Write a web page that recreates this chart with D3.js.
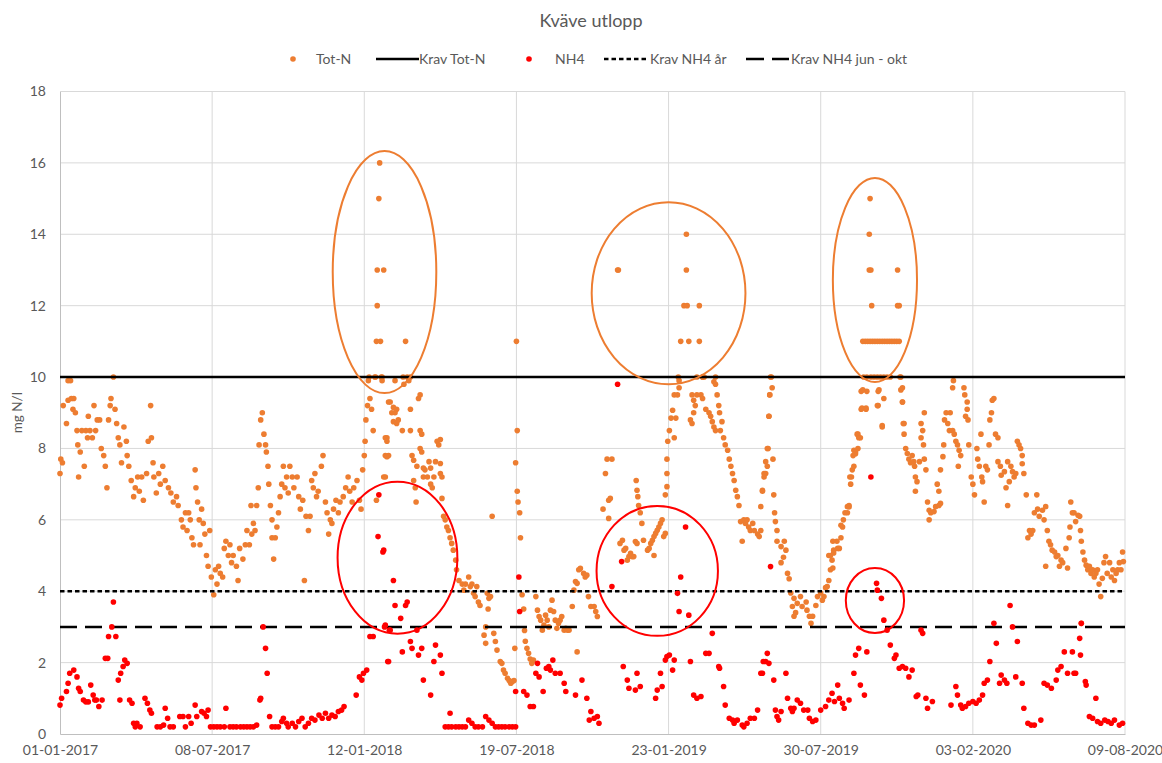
<!DOCTYPE html>
<html>
<head>
<meta charset="utf-8">
<script src="https://cdn.jsdelivr.net/npm/d3@7"></script>
<style>
  body { margin: 0; background: #fff; }
  text { font-family: Lato, "Open Sans", sans-serif; fill: #595959; }
</style>
</head>
<body>
<div id="chart"></div>
<script>
// days counted from 01-01-2017, values in mg N/l
const startDate = "2017-01-01";
const tickStepDays = 188;
const yTicks = [0, 2, 4, 6, 8, 10, 12, 14, 16, 18];

const kravTotN = 10;
const kravNH4Ar = 4;
const kravNH4JunOkt = 3;

// Tot-N, [day, value]
const totN2017 = [[0,7.3],[1,7.7],[3,7.6],[4,9.2],[8,8.7],[10,9.35],[10,9.9],[13,9.9],[14,9.4],[17,9.4],[16,9.1],[19,9.0],[21,8.5],[22,8.1],[23,7.2],[25,7.9],[27,8.5],[30,7.5],[32,8.5],[34,8.3],[35,8.9],[37,8.5],[40,8.3],[42,9.2],[44,8.5],[46,8.8],[49,8.8],[51,8.0],[54,7.8],[56,7.5],[58,6.9],[60,8.8],[62,9.2],[63,9.4],[66,10.0],[68,9.1],[70,8.7],[72,8.3],[74,8.1],[76,7.6],[79,8.6],[82,8.2],[83,7.8],[85,7.5],[88,7.1],[91,6.65],[93,6.9],[96,7.2],[98,6.8],[101,7.2],[103,6.55],[107,7.3],[109,8.2],[112,9.2],[113,8.3],[115,7.6],[116,7.2],[119,6.75],[122,7.3],[124,7.0],[127,7.5],[130,7.1],[134,6.9],[137,6.75],[140,6.5],[144,6.65],[146,6.4],[150,6.0],[152,5.8],[155,6.2],[157,5.7],[159,6.2],[161,6.0],[163,5.5],[165,5.3],[167,7.4],[168,6.9],[170,6.5],[172,6.0],[173,5.3],[175,6.3],[177,5.9],[179,5.6],[181,5.0],[183,4.7],[185,5.7],[187,4.4],[190,3.9],[192,4.6],[194,4.2],[196,4.7],[198,4.5],[201,4.4],[203,5.2],[205,5.4],[208,5.0],[210,5.3],[212,4.8],[214,5.0],[218,4.7],[220,4.3],[222,5.2],[226,4.9],[229,5.3],[231,5.7],[234,5.3],[236,6.4],[237,5.6],[239,5.9],[241,5.7],[243,6.4],[245,6.9],[246,8.1],[248,8.8],[250,9.0],[252,8.4],[254,8.1],[255,7.9],[257,7.5],[258,7.0],[260,6.4],[262,6.0],[262,5.5],[264,4.9],[266,5.5],[268,5.8],[270,6.2],[272,6.65],[274,7.0],[276,7.5],[278,6.9],[280,7.2],[282,6.75],[284,7.5],[287,7.2],[289,6.9],[293,7.2],[295,6.65],[297,6.3],[300,6.55],[302,4.3],[304,6.1],[307,5.7],[309,6.1],[311,7.1],[313,6.9],[315,7.3],[317,6.65],[319,6.8],[323,7.5],[325,7.8],[328,6.5],[330,6.2],[332,5.6],[334,6.0],[336,5.9],[338,6.3],[341,6.55],[344,6.2],[346,6.5],[350,6.65],[353,6.9],[356,7.2],[358,6.8],[361,6.5],[363,6.9]];

const totN2018 = [[367,7.1],[370,6.55],[372,6.3],[374,7.4],[376,7.8],[377,8.2],[378,8.8],[380,9.2],[381,9.9],[383,9.4],[385,9.1],[387,8.5],[389,10],[391,6.55],[398,10],[400,7.2],[404,8.3],[406,7.8],[414,9.9],[416,9.1],
  [395,16],[394,15],[392,13],[400,13],[392,12],[391,11],[396,11],[427,11],[382,10],[390,10],[397,10],[424,10],[429,10],
  [398,9.9],[425,9.8],[431,9.9],[433,10.0],[408,9.3],[412,9.15],[410,9.0],[414,9.0],[412,8.75],[416,8.7],[418,8.8],[406,9.3],[423,8.5],[433,9.1],[433,8.5],[445,8.5],[447,8.4],[445,9.5],[443,9.4],[402,8.3],[404,8.2],[402,7.8],[404,7.77],[402,7.2],[435,7.8],[437,7.67],[441,7.5],[445,8.0],[447,7.9],[449,7.45],[451,7.4],[456,7.63],[458,7.45],[464,7.63],[470,7.58],[466,8.2],[468,8.1],[470,8.25],[449,7.2],[454,7.2],[458,7.0],[460,6.9],[462,7.2],[470,7.3],[472,7.2],[437,7.1],[439,6.9],[440,6.5],[472,6.6],[474,6.1],[476,6.0],[478,5.8],[480,5.7],[482,5.5],[484,5.34],[486,5.15],[489,4.87],[490,4.6],[493,4.3],[497,4.2],[499,4.03],[501,4.2],[505,4.4],[507,4.13],[509,4.2],[511,3.94],[513,3.85],[515,4.13],[517,3.7],[519,3.6],[528,3.94],[530,3.8],[532,3.85],[529,3.5],[526,3.0],[524,2.77],[526,2.54],[534,6.1],[536,2.82],[538,2.59],[540,2.35],[544,2.03],[546,1.98],[548,1.79],[550,1.7],[553,1.56],[555,1.5],[557,1.42],[559,1.47],[561,1.5],
  [564,11],[565,8.5],[563,7.6],[565,6.8],[566,6.5],[568,6.2],[569,5.5],[562,2.4],[571,3.9],[573,3.5],[574,2.9],[575,2.6],[577,2.4],[579,2.26],[581,2.1],[583,1.98],[585,2.07],[588,3.85],[590,3.47],[592,3.29],[594,3.19],[596,2.91],[598,3.05],[600,3.33],[602,3.19],[604,3.0],[606,3.47],[608,3.75],[610,3.43],[612,3.19],[614,2.96],[616,3.1],[618,3.19],[620,3.29],[623,2.91],[625,2.96],[627,2.91],[629,2.91],[633,3.57],[635,4.03],[637,4.27],[639,4.22],[641,4.6],[643,4.64],[647,4.5],[649,4.4],[651,4.45],[639,2.3],[653,3.85],[656,3.57],[660,3.57],[662,3.43],[664,3.29],[671,6.3],[674,7.3],[676,7.7],[682,7.7],[678,6.55],[680,6.6],[678,6.04],[689,13],[690,13],[692,5.34],[695,5.43],[697,5.15],[699,5.2],[701,4.87],[703,4.97],[705,5.06],[707,4.97],[709,4.97],[711,5.39],[713,5.34],[712,7.1],[713,6.83],[714,6.65],[715,6.4],[717,6.2],[719,5.9],[721,5.43],[726,5.15],[728,5.2],[730,5.34]];

const totN2019 = [[732,5.43],[734,5.53],[736,5.62],[738,5.71],[740,5.8],[742,5.9],[744,6.0],[746,5.53],[748,5.62],[734,5.0],[748,6.7],[750,6.93],[750,7.3],[750,7.7],[751,8.2],[753,8.5],[755,8.85],[757,9.07],[759,9.5],[761,8.85],[763,9.5],[759,8.3],[765,9.9],[765,9.7],[764,10],
  [774,14],[774,13],[771,12],[775,12],[790,12],[767,11],[777,11],[790,11],[794,10],[796,10],[810,10],[879,10],
  [781,9.5],[783,9.35],[785,9.2],[783,9.0],[779,8.8],[781,8.7],[787,9.5],[792,9.5],[794,9.4],[787,10],[794,10],[808,9.87],[810,9.8],[798,9.1],[802,9.0],[804,8.9],[806,8.75],[808,8.6],[810,8.5],[812,9.5],[814,9.2],[815,9.0],[818,8.75],[816,8.5],[820,8.3],[822,8.1],[825,7.95],[827,7.7],[829,7.5],[831,7.3],[833,7.1],[835,6.83],[837,6.65],[839,6.4],[841,5.95],[845,6.0],[847,5.9],[849,6.0],[851,5.8],[853,5.7],[856,5.9],[858,5.7],[862,5.6],[864,5.53],[843,5.4],[866,6.37],[868,6.83],[870,7.3],[872,7.63],[874,8.0],[876,8.9],[877,9.5],[878,10.0],
  [880,9.7],[877,9.5],[876,8.9],[875,8.0],[881,7.7],[874,7.5],[872,7.3],[870,7.2],[868,6.8],[882,6.7],[883,6.2],[884,5.95],[866,5.7],[886,5.7],[886,5.4],[895,5.4],[891,5.25],[897,5.15],[894,4.95],[891,4.8],[899,4.5],[901,4.35],[903,3.95],[907,3.8],[905,3.57],[911,3.66],[915,3.85],[907,3.3],[909,3.4],[917,3.57],[922,3.7],[923,3.47],[926,3.3],[928,3.1],[930,3.3],[934,3.6],[936,3.85],[940,3.95],[942,3.75],[944,3.85],[946,4.1],[948,4.13],[950,4.3],[952,4.6],[954,4.87],[950,5.0],[956,5.15],[963,5.2],[960,5.4],[965,5.5],[965,5.85],[968,6.0],[970,6.2],[973,6.37],[975,6.4],[976,7.2],[977,7.0],[979,7.4],[980,7.8],[983,7.9],[986,8.0],[985,8.4],[989,8.3],[990,9.1],[996,9.1],[990,9.6],[997,9.6],
  [1001,15],[1000,14],[1000,13],[1002,13],[1035,13],[1003,12],[1035,12],[1037,12],
  [992,11],[995,11],[998,11],[1001,11],[1004,11],[1007,11],[1010,11],[1013,11],[1016,11],[1019,11],[1022,11],[1025,11],[1028,11],[1031,11],[1034,11],[1037,11],
  [993,10],[997,10],[1002,10],[1006,10],[1010,10],[1014,10],[1018,10],[1022,10],[1026,10],[1038,10],
  [992,9.64],[1012,9.64],[1039,9.64],[991,9.13],[996,9.13],[1018,9.4],[1011,9.2],[1016,8.64],[1041,9.3],[1043,8.7],[1043,8.4],[986,8.4],[987,8.3],[981,7.95],[983,7.85],[981,7.5],[978,7.2],[975,6.36],[973,6.2],[967,5.8],[961,5.2],[956,5.07],[952,5.0],[955,5.4],[955,4.65],
  [1010,9.2],[1011,9.6],[1016,8.6],[1039,10.0],[1041,9.7],[1041,9.3],[1042,8.7],[1045,8.0],[1047,7.86],[1049,7.7],[1051,7.6],[1053,7.8],[1055,7.63],[1056,7.5],[1057,7.2],[1059,7.07],[1057,6.8],[1062,7.63],[1064,8.3],[1066,8.5],[1068,9.0],[1064,8.7],[1067,8.1],[1068,7.7],[1070,7.4],[1072,6.5],[1074,6.27],[1076,6.2],[1080,6.23],[1082,6.37],[1086,6.4],[1088,6.46],[1074,6.0],[1084,7.0],[1086,6.8],[1088,7.4],[1091,7.77],[1092,8.1],[1093,8.8]];

const totN2020 = [[1095,9.0],[1097,8.7],[1100,9.0],[1099,8.5],[1103,8.5],[1105,8.4],[1107,8.2],[1109,8.1],[1111,7.95],[1113,7.8],[1110,7.5],[1104,9.9],[1103,9.7],[1117,9.7],[1118,9.5],[1121,9.3],[1121,9.1],[1119,8.9],[1122,8.8],[1123,8.1],[1126,7.2],[1128,7.0],[1130,6.7],[1133,8.0],[1134,7.7],[1136,7.5],[1138,8.4],[1139,7.2],[1140,7.07],[1142,6.5],[1144,7.5],[1146,7.4],[1148,8.1],[1149,8.8],[1151,9.0],[1152,9.35],[1154,9.4],[1156,8.4],[1159,8.3],[1159,7.63],[1162,7.5],[1163,7.25],[1167,7.35],[1171,7.63],[1173,7.07],[1169,6.9],[1171,6.4],[1175,7.5],[1177,7.35],[1179,7.2],[1181,7.3],[1183,8.2],[1185,8.1],[1187,8.0],[1189,7.8],[1191,7.3],[1189,7.57],[1194,6.7],[1198,5.7],[1200,5.6],[1202,5.7],[1196,5.5],[1204,6.2],[1207,6.7],[1208,6.3],[1210,6.1],[1214,6.27],[1216,6.0],[1218,6.37],[1220,5.7],[1222,5.4],[1224,5.3],[1226,5.15],[1218,4.7],[1229,5.1],[1231,4.97],[1233,5.0],[1237,4.87],[1235,4.7],[1239,4.8],[1243,5.2],[1245,4.65],[1247,5.5],[1248,5.8],[1251,6.2],[1249,6.5],[1253,6.2],[1255,5.95],[1258,6.13],[1260,6.1],[1261,5.7],[1262,5.4],[1264,5.1],[1266,4.87],[1262,3.1],[1268,4.73],[1270,4.6],[1272,4.7],[1274,4.5],[1276,4.6],[1278,4.4],[1280,4.5],[1282,4.6],[1284,4.2],[1286,3.85],[1288,4.36],[1290,4.8],[1292,4.97],[1294,4.5],[1297,4.8],[1299,4.4],[1301,4.6],[1303,4.3],[1305,4.5],[1307,4.6],[1309,4.8],[1311,4.6],[1313,5.1],[1314,4.83]];

// NH4, [day, value]
const nh4_2017 = [[0,0.81],[2,1.0],[8,1.19],[10,1.42],[12,1.7],[17,1.79],[21,1.6],[23,1.28],[25,1.19],[29,0.95],[32,0.9],[35,0.9],[38,1.37],[41,1.09],[43,0.95],[45,0.95],[48,0.77],[52,0.95],[56,2.12],[59,2.12],[60,2.73],[64,3.0],[66,3.7],[69,2.73],[72,1.51],[74,0.95],[75,1.7],[78,1.89],[80,2.07],[83,1.98],[86,0.95],[89,0.86],[91,0.3],[93,0.2],[95,0.3],[99,0.2],[105,1.0],[108,0.86],[111,0.67],[113,0.58],[120,0.2],[124,0.2],[128,0.25],[130,0.72],[133,0.44],[136,0.2],[140,0.2],[148,0.49],[152,0.49],[155,0.2],[159,0.49],[162,0.3],[167,0.81],[169,0.49],[175,0.63],[178,0.58],[181,0.49],[183,0.67],[186,0.2],[190,0.2],[194,0.2],[198,0.2],[203,0.2],[205,0.72],[210,0.2],[214,0.2],[218,0.2],[223,0.2],[227,0.2],[231,0.2],[235,0.2],[239,0.2],[243,0.25],[247,0.95],[248,1.0],[251,3.0],[254,2.4],[256,1.7],[259,0.49],[262,0.2],[266,0.2],[270,0.2],[274,0.35],[276,0.44],[280,0.3],[282,0.2],[287,0.3],[291,0.2],[295,0.35],[299,0.44],[303,0.2],[307,0.3],[311,0.44],[315,0.39],[320,0.53],[324,0.44],[328,0.58],[332,0.44],[336,0.53],[340,0.49],[344,0.63],[348,0.67],[351,0.77]];

const nh4_2018 = [[366,1.09],[370,1.6],[373,1.51],[375,1.7],[379,1.79],[383,2.73],[387,2.73],[394,6.7],[393,5.53],[399,5.1],[401,3.0],[405,2.03],[407,2.91],[400,5.15],[412,4.3],[414,3.6],[427,3.6],[429,3.7],[421,3.24],[402,3.05],[408,2.91],[406,2.03],[423,2.3],[433,2.59],[435,2.4],[441,2.91],[443,2.21],[447,2.4],[449,1.51],[458,1.09],[462,2.03],[464,2.49],[470,2.21],[472,1.7],[482,0.58],[476,0.2],[480,0.2],[484,0.2],[489,0.2],[493,0.2],[497,0.2],[501,0.2],[505,0.39],[509,0.3],[513,0.2],[517,0.2],[522,0.2],[526,0.49],[530,0.39],[534,0.3],[538,0.2],[542,0.2],[546,0.2],[550,0.2],[555,0.2],[559,0.2],[563,0.2],[563,1.19],[567,4.4],[568,3.43],[573,1.19],[577,1.09],[581,0.77],[585,0.77],[590,1.98],[588,1.7],[592,1.6],[597,1.19],[601,1.84],[604,1.89],[606,1.79],[609,2.07],[612,1.7],[618,1.7],[623,1.42],[625,1.19],[637,1.09],[645,1.51],[651,1.0],[654,0.39],[656,0.63],[660,0.44],[664,0.49],[666,0.3],[682,4.13],[689,9.8],[694,4.83],[696,1.89],[701,1.51],[703,1.28],[711,1.23],[713,1.7],[717,1.33]];

const nh4_2019 = [[736,1.0],[738,1.23],[742,1.7],[744,1.33],[748,2.07],[750,2.17],[753,2.21],[757,1.79],[759,2.07],[763,3.94],[765,3.43],[767,4.4],[773,5.8],[777,3.33],[779,2.03],[783,1.09],[787,1.0],[792,1.05],[798,2.26],[802,2.26],[806,2.82],[814,1.89],[815,1.84],[820,1.33],[822,0.81],[827,0.44],[831,0.39],[833,0.3],[837,0.39],[843,0.25],[845,0.2],[849,0.3],[853,0.44],[858,0.44],[862,0.67],[866,1.7],[869,2.03],[874,2.26],[876,1.98],[878,4.69],[884,0.67],[886,0.49],[868,1.7],[872,2.03],[882,1.51],[891,0.63],[888,0.39],[897,1.7],[899,1.0],[903,0.72],[905,0.63],[907,0.72],[911,0.95],[915,0.86],[919,0.67],[924,0.67],[926,0.44],[930,0.35],[934,0.39],[940,0.67],[946,0.77],[950,0.95],[954,1.14],[957,0.91],[961,1.37],[963,1.0],[967,0.86],[969,0.72],[975,0.95],[981,1.7],[983,2.21],[987,2.4],[989,1.37],[994,1.09],[997,2.3],[1002,7.2],[1009,4.22],[1010,4.03],[1015,3.8],[1018,3.19],[1022,2.91],[1026,2.49],[1031,2.12],[1033,2.21],[1037,1.84],[1041,1.89],[1045,1.84],[1049,1.6],[1053,1.79],[1058,1.05],[1060,1.09],[1064,2.91],[1066,2.82],[1070,1.0],[1072,0.72],[1078,0.91]];

const nh4_2020 = [[1101,0.81],[1107,1.33],[1109,1.09],[1113,0.81],[1115,0.72],[1119,0.77],[1123,0.86],[1128,0.91],[1132,0.86],[1136,0.95],[1140,1.09],[1142,1.42],[1146,1.51],[1149,2.03],[1154,3.1],[1157,2.54],[1161,1.42],[1163,1.65],[1167,1.51],[1170,1.42],[1174,3.6],[1177,3.0],[1183,2.59],[1181,1.6],[1189,1.42],[1191,0.72],[1196,0.3],[1200,0.25],[1204,0.25],[1212,0.39],[1216,1.42],[1220,1.37],[1225,1.28],[1231,1.51],[1233,1.79],[1237,1.89],[1241,2.3],[1245,1.7],[1251,2.3],[1253,1.7],[1255,1.7],[1260,2.68],[1262,3.1],[1261,2.21],[1267,1.47],[1268,1.37],[1280,1.0],[1272,0.49],[1276,0.44],[1282,0.35],[1286,0.3],[1291,0.39],[1295,0.35],[1299,0.3],[1303,0.39],[1309,0.25],[1313,0.3]];

// hand drawn rings: [centre day, centre value, radius days, radius value]
const ringsTotN = [[401,12.94,64,3.39],[752,12.35,95,2.55],[1007,12.72,52,2.86]];
const ringsNH4 = [[417,4.94,74,2.13],[738,4.57,75,1.82],[1007,3.74,36,0.91]];

const orange = "#ED7D31", red = "#FF0000";
const width = 1162, height = 763;
const margin = { top: 91.5, right: 37, bottom: 29, left: 60 };
const w = width - margin.left - margin.right;
const h = height - margin.top - margin.bottom;

const t0 = new Date(startDate + "T00:00:00Z");
const toDate = d => d3.utcDay.offset(t0, d);
const endDate = toDate(tickStepDays * 7);
const xTicks = d3.range(0, 8).map(i => toDate(i * tickStepDays));

const svg = d3.select("#chart").append("svg")
  .attr("width", width)
  .attr("height", height);

svg.append("text")
  .attr("x", 591).attr("y", 27)
  .attr("text-anchor", "middle")
  .style("font-size", "18px")
  .text("Kväve utlopp");

const g = svg.append("g")
  .attr("transform", `translate(${margin.left},${margin.top})`);

const x = d3.scaleUtc().domain([t0, endDate]).range([0, w]);
const y = d3.scaleLinear().domain([0, 18]).range([h, 0]);

// grid
g.append("g").selectAll("line").data(yTicks.slice(1)).enter().append("line")
  .attr("x1", 0).attr("x2", w)
  .attr("y1", d => y(d)).attr("y2", d => y(d))
  .attr("stroke", "#d9d9d9");
g.append("g").selectAll("line").data(xTicks.slice(1)).enter().append("line")
  .attr("x1", d => x(d)).attr("x2", d => x(d))
  .attr("y1", 0).attr("y2", h)
  .attr("stroke", "#d9d9d9");

// axes
const xAxis = g.append("g")
  .attr("transform", `translate(0,${h})`)
  .call(d3.axisBottom(x).tickValues(xTicks).tickFormat(d3.utcFormat("%d-%m-%Y")).tickSize(0).tickPadding(11));
const yAxis = g.append("g")
  .call(d3.axisLeft(y).tickValues(yTicks).tickSize(0).tickPadding(14));
[xAxis, yAxis].forEach(a => {
  a.select(".domain").attr("stroke", "#bfbfbf");
  a.selectAll("text").style("font-size", "14px").style("font-family", "Lato, sans-serif").attr("fill", "#595959");
});

svg.append("text")
  .attr("transform", `translate(22,${margin.top + h / 2}) rotate(-90)`)
  .attr("text-anchor", "middle")
  .style("font-size", "13.5px")
  .text("mg N/l");

const dot = d => ({ date: toDate(d[0]), value: d[1] });
const totN = [].concat(totN2017, totN2018, totN2019, totN2020).map(dot);
const nh4 = [].concat(nh4_2017, nh4_2018, nh4_2019, nh4_2020).map(dot);

g.append("g").selectAll("circle").data(totN).enter().append("circle")
  .attr("cx", d => x(d.date))
  .attr("cy", d => y(d.value))
  .attr("r", 2.8)
  .attr("fill", orange);

// requirement lines
const limits = [
  { v: kravTotN, dash: null },
  { v: kravNH4Ar, dash: "4.5,3" },
  { v: kravNH4JunOkt, dash: "17,8" }
];
g.append("g").selectAll("line").data(limits).enter().append("line")
  .attr("x1", 0).attr("x2", w)
  .attr("y1", d => y(d.v)).attr("y2", d => y(d.v))
  .attr("stroke", "#000")
  .attr("stroke-width", 2.5)
  .attr("stroke-dasharray", d => d.dash);

g.append("g").selectAll("circle").data(nh4).enter().append("circle")
  .attr("cx", d => x(d.date))
  .attr("cy", d => y(d.value))
  .attr("r", 2.8)
  .attr("fill", red);

// rings
function ring(sel, data, colour) {
  sel.selectAll("ellipse").data(data).enter().append("ellipse")
    .attr("cx", d => x(toDate(d[0])))
    .attr("cy", d => y(d[1]))
    .attr("rx", d => x(toDate(d[0] + d[2])) - x(toDate(d[0])))
    .attr("ry", d => y(0) - y(d[3]))
    .attr("fill", "none")
    .attr("stroke", colour)
    .attr("stroke-width", 2);
}
ring(g.append("g"), ringsTotN, orange);
ring(g.append("g"), ringsNH4, red);

// legend
const legend = svg.append("g").attr("transform", "translate(0,59)");
const items = [
  { label: "Tot-N", type: "dot", colour: orange, x: 293, tx: 316 },
  { label: "Krav Tot-N", type: "line", dash: null, x: 376, tx: 419 },
  { label: "NH4", type: "dot", colour: red, x: 529, tx: 555 },
  { label: "Krav NH4 år", type: "line", dash: "4.5,3", x: 604, tx: 650 },
  { label: "Krav NH4 jun - okt", type: "line", dash: "18,8", x: 746, tx: 791 }
];
items.forEach(it => {
  if (it.type === "dot") {
    legend.append("circle").attr("cx", it.x).attr("cy", 0).attr("r", 2.8).attr("fill", it.colour);
  } else {
    legend.append("line").attr("x1", it.x).attr("x2", it.x + 43).attr("y1", 0).attr("y2", 0)
      .attr("stroke", "#000").attr("stroke-width", 2.5).attr("stroke-dasharray", it.dash);
  }
  legend.append("text").attr("x", it.tx).attr("y", 5).style("font-size", "14px").text(it.label);
});
</script>
</body>
</html>
